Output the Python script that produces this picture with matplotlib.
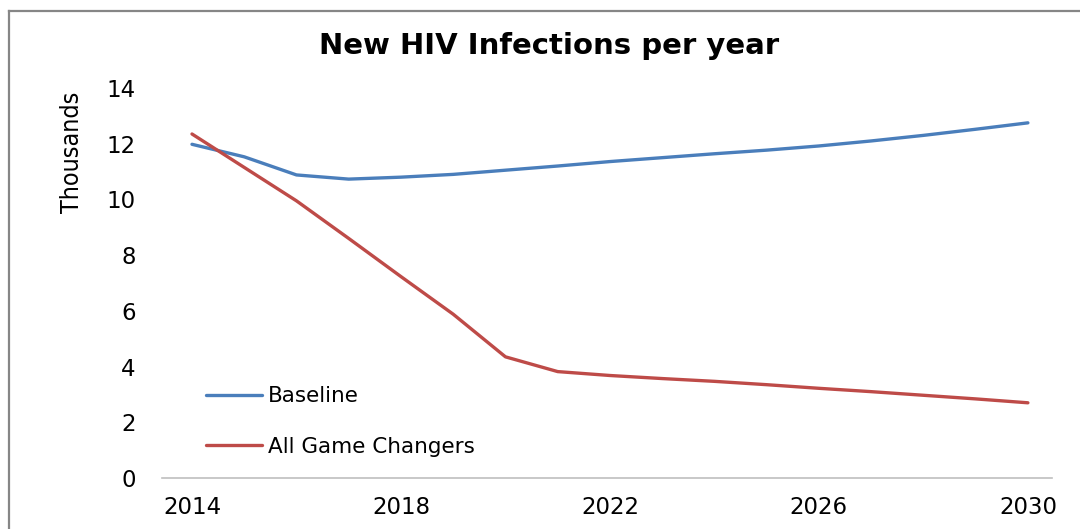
'''New HIV infections per year: baseline vs all game changers, 2014-2030'''
import matplotlib
matplotlib.use('Agg')
import matplotlib.pyplot as plt
from matplotlib.lines import Line2D

# Projected new infections (thousands)
years = list(range(2014, 2031))
baseline = [11.98, 11.53, 10.88, 10.73, 10.80, 10.90, 11.05, 11.20, 11.36,
            11.50, 11.64, 11.77, 11.92, 12.10, 12.30, 12.52, 12.75]
game_changers = [12.35, 11.15, 9.95, 8.60, 7.23, 5.88, 4.35, 3.82, 3.68,
                 3.57, 3.47, 3.35, 3.22, 3.10, 2.97, 2.84, 2.70]
x_ticks = [2014, 2018, 2022, 2026, 2030]
y_ticks = [0, 2, 4, 6, 8, 10, 12, 14]

fig = plt.figure(figsize=(10.8, 5.29), dpi=100)
ax = fig.add_axes([0.15, 0.0964, 0.824, 0.7372])

ax.plot(years, baseline, color='#4A7EBB', lw=2.4, label='Baseline',
        solid_capstyle='round')
ax.plot(years, game_changers, color='#BE4B48', lw=2.4, label='All Game Changers',
        solid_capstyle='round')

ax.set_xlim(2013.426, 2030.46)
ax.set_ylim(0, 14)
ax.set_xticks(x_ticks)
ax.set_yticks(y_ticks)
ax.tick_params(axis='both', length=0, labelsize=16.5, colors='black')
ax.tick_params(axis='x', pad=13)
ax.tick_params(axis='y', pad=19)

for side in ['top', 'right', 'left']:
    ax.spines[side].set_visible(False)
ax.spines['bottom'].set_color('#BFBFBF')
ax.spines['bottom'].set_linewidth(1.2)

ax.set_ylabel('Thousands', fontsize=18, fontstretch='condensed', fontweight='medium')
ax.yaxis.set_label_coords(-0.0875, 0.836)

fig.text(0.508, 0.913, 'New HIV Infections per year', ha='center', va='center',
         fontsize=21, fontweight='bold')

ax.legend(loc='center left', bbox_to_anchor=(0.028, 0.145), frameon=False,
          fontsize=15.5, handlelength=2.6, handletextpad=0.25, labelspacing=1.4)

# chart frame (left and top edges)
fig.add_artist(Line2D([9 / 1080, 9 / 1080], [0, 1 - 11 / 529], color='#868686', lw=1.6))
fig.add_artist(Line2D([9 / 1080, 1], [1 - 11 / 529, 1 - 11 / 529], color='#868686', lw=1.6))

fig.savefig('out.png', dpi=100)
